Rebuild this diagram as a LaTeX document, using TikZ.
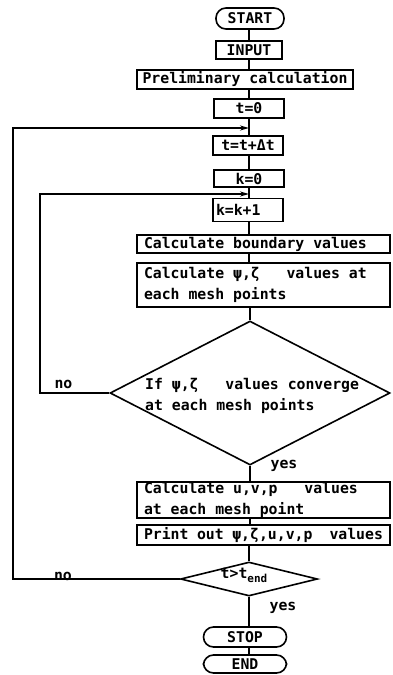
\documentclass[tikz,border=0pt]{standalone}
\usepackage{fontspec}
\setmainfont{DejaVu Sans Mono}
\usetikzlibrary{shapes.geometric,arrows.meta}
\begin{document}
\begin{tikzpicture}[x=1pt,y=-1pt,
  every node/.style={font=\fontsize{14.8}{21.5}\selectfont\bfseries, inner sep=0pt},
  conn/.style={line width=1.6pt},
  loopback/.style={line width=1.6pt, -{Stealth[length=9pt,width=5pt]}},
  narrow/.style={draw, line width=1.6pt, minimum width=70pt, minimum height=19pt},
  wide/.style={draw, line width=1.6pt, text width=239pt, inner xsep=7pt, align=flush left},
  term/.style={draw, line width=1.6pt, rounded corners=10pt, minimum width=68pt, minimum height=21pt},
  decision/.style={draw, line width=1.6pt, diamond, inner sep=0pt}
]
\useasboundingbox (0,0) rectangle (392,675);

% main column
\node[term] (start) at (250,18.5) {START};
\node[narrow, minimum width=66pt, minimum height=18pt] (input) at (249,50) {INPUT};
\node[narrow, minimum width=216pt] (prelim) at (245,79.5) {Preliminary calculation};
\node[narrow] (t0) at (249,108.5) {t=0};
\node[narrow] (tdt) at (248,145.5) {t=t+Δt};
\node[narrow, minimum height=17pt] (k0) at (249,178.5) {k=0};
\node[draw, line width=1.6pt, text width=64pt, inner xsep=3pt, minimum height=23pt, align=flush left] (kk) at (248,210) {k=k+1};
\node[wide, minimum height=18pt] (bound) at (263.5,244) {Calculate boundary values};
\node[wide, minimum height=44pt] (psi) at (263.5,285) {Calculate ψ,ζ~~~values at\\each mesh points};
\node[decision, minimum width=280pt, minimum height=144pt] (conv) at (250,393) {};
\node[anchor=west, align=left] (convtxt) at (145,396) {If ψ,ζ~~~values converge\\at each mesh points};
\node[wide, minimum height=36pt] (uvp) at (263.5,500) {Calculate u,v,p~~~values\\at each mesh point};
\node[wide, minimum height=20pt] (print) at (263.5,535) {Print out ψ,ζ,u,v,p~~values};
\node[decision, minimum width=137pt, minimum height=34pt] (tend) at (249,579) {};
\node (tendtxt) at (244,575) {t>t\raisebox{-4pt}{\fontsize{11}{11}\selectfont\bfseries end}};
\node[term, minimum width=83pt, minimum height=20pt] (stop) at (245,637) {STOP};
\node[term, minimum width=83pt, minimum height=18pt] (end) at (245,664) {END};

% connectors along the spine
\draw[conn] (start.south -| input.north) -- (input.north);
\draw[conn] (input.south) -- (input.south |- prelim.north);
\draw[conn] (prelim.south -| t0.north) -- (t0.north);
\draw[conn] (t0.south) -- (t0.south |- tdt.north);
\draw[conn] (tdt.south -| k0.north) -- (k0.north);
\draw[conn] (k0.south) -- (k0.south |- kk.north);
\draw[conn] (kk.south -| k0.south) -- (k0.south |- bound.north);
\draw[conn] (bound.south -| k0.south) -- (k0.south |- psi.north);
\draw[conn] (psi.south -| conv.north) -- (conv.north);
\draw[conn] (conv.south) -- (conv.south |- uvp.north);
\draw[conn] (uvp.south -| conv.south) -- (conv.south |- print.north);
\draw[conn] (print.south -| tend.north) -- (tend.north);
\draw[conn] (tend.south) -- (tend.south |- stop.north);
\draw[conn] (stop.south -| tend.south) -- (tend.south |- end.north);

% loop backs
\coordinate (outer) at (13,128);
\coordinate (j1) at (249,128);
\coordinate (inner) at (40,194);
\coordinate (j2) at (249,194);
\draw[loopback] (tend.west) -| (outer) -- (j1);
\draw[loopback] (conv.west) -| (inner) -- (j2);

% labels
\node (no1) at (63.5,384) {no};
\node (no2) at (63,576) {no};
\node (yes1) at (284,466) {yes};
\node (yes2) at (283,608) {yes};
\end{tikzpicture}
\end{document}
